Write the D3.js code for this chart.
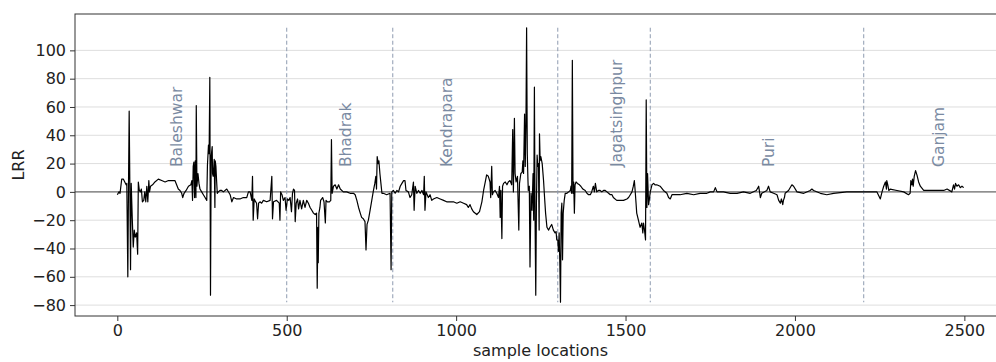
<!DOCTYPE html>
<html>
<head>
<meta charset="utf-8">
<script src="https://cdn.jsdelivr.net/npm/d3@7"></script>
<style>
  html, body { margin:0; padding:0; background:#fff; overflow:hidden; }
  svg { display:block; font-family:"DejaVu Sans", sans-serif; }
</style>
</head>
<body>
<svg id="chart" width="996" height="362"></svg>
<script>
// LRR along the coast. Only the turning points
// were read, so the fine noise of the original trace is not here.
var SAMPLE_X = [
  0,5,8,13,18,22,26,28,31,33,35,37,39,41,44,47,50,53,57,60,62,65,68,71,74,78,81,84,87,90,93,95,98,104,111,121,131,141,151,160,
  170,175,180,185,190,193,197,203,210,217,220,222,224,226,228,230,232,233,235,238,241,244,249,254,259,264,266,269,271,273,275,277,280,281,283,286,288,289,291,293,
  295,298,303,308,313,323,333,338,343,352,362,372,382,387,392,397,399,401,404,406,411,414,417,421,426,431,441,451,456,458,461,470,478,480,482,486,490,495,498,502,
  506,510,514,517,520,523,525,528,532,535,539,544,549,554,559,564,569,574,579,584,588,590,592,593,595,598,600,606,610,614,616,620,626,630,632,634,638,643,648,653,
  658,667,677,687,697,702,707,712,717,721,726,731,734,737,741,746,751,756,760,763,765,767,770,772,775,778,781,785,795,805,808,810,815,820,825,830,835,840,845,849,
  852,859,864,869,874,876,879,884,889,894,899,904,906,908,911,918,923,928,933,943,953,963,972,982,992,1002,1012,1022,1031,1036,1041,1046,1051,1061,1069,1076,1081,1086,1090,1095,
  1100,1102,1105,1107,1110,1115,1120,1125,1128,1130,1132,1135,1137,1140,1145,1150,1154,1159,1164,1167,1169,1172,1174,1177,1181,1185,1187,1191,1195,1197,1199,1202,1204,1206,1208,1210,1212,1213,1216,1218,
  1221,1224,1227,1229,1231,1233,1235,1237,1239,1241,1243,1245,1246,1248,1250,1254,1258,1261,1264,1268,1273,1277,1282,1287,1292,1295,1297,1300,1302,1304,1306,1308,1310,1312,1314,1316,1319,1322,1327,1332,
  1337,1339,1341,1343,1345,1347,1349,1351,1354,1358,1364,1368,1374,1381,1386,1391,1396,1400,1405,1408,1411,1415,1420,1425,1430,1435,1440,1445,1450,1455,1460,1464,1474,1484,1494,1504,1509,1514,1519,1523,
  1526,1528,1531,1533,1538,1543,1548,1551,1553,1556,1559,1561,1563,1565,1568,1571,1573,1578,1583,1587,1592,1602,1612,1622,1627,1632,1637,1642,1661,1681,1701,1720,1740,1750,1760,1765,1770,1789,1809,1829,
  1848,1868,1886,1893,1898,1902,1917,1922,1927,1937,1947,1952,1957,1960,1964,1966,1969,1971,1981,1991,1996,2006,2026,2045,2050,2055,2075,2094,2114,2153,2173,2203,2232,2242,2252,2257,2262,2267,2270,2271,
  2274,2277,2281,2301,2321,2335,2340,2342,2345,2347,2349,2352,2356,2360,2365,2370,2380,2399,2419,2439,2449,2463,2468,2471,2474,2478,2483,2488,2493,2498
];
var LRR = [
  -2,0,-1,9,9,7,5,6,-60,4,57,4,-55,6,-18,-39,-27,-32,-29,-44,7,1,0,2,-7,-6,0,-7,4,-7,8,0,4,5,7,9,8,7,8,8,
  8,5,2,1,-1,-4,-1,1,4,5,8,-6,18,21,-4,22,-4,61,4,13,6,2,0,-2,-4,-6,19,33,27,81,-73,25,32,13,11,23,-11,22,18,8,
  -1,0,1,1,0,2,-2,-7,-4,-5,-5,-4,-4,0,0,-6,11,-20,-5,-6,-8,-19,-8,-7,-8,-6,-7,-6,11,-19,-7,-6,-8,-20,0,-2,-6,-4,-13,-5,
  -6,-4,-14,-1,2,1,-21,-8,-5,-12,-6,-12,-6,-11,-6,-8,-11,-13,-15,-16,-15,-68,-25,-50,-15,-11,-6,-4,-7,-22,-6,-7,-7,-6,37,-1,4,5,2,5,
  2,0,0,-1,-1,-2,-6,-11,-15,-18,-19,-21,-41,-23,-20,-13,-6,1,6,11,2,25,20,22,13,6,-1,-1,-2,-1,-55,0,1,-1,1,0,4,6,8,8,
  1,0,-4,-2,7,-13,4,-1,1,-1,1,-2,11,-13,0,-4,-2,-6,-5,-4,-5,-6,-7,-7,-7,-8,-7,-8,-9,-11,-9,-12,-14,-16,-14,-7,1,7,12,11,
  7,-4,18,-2,0,1,-1,-4,4,-18,1,-33,4,6,7,5,7,8,5,44,0,52,13,7,11,-27,6,13,14,22,13,55,18,46,116,27,8,1,4,-53,
  -1,-13,13,-20,74,-20,-73,-8,26,18,20,-27,41,22,25,20,8,-4,-15,-25,-27,-25,-23,-27,-29,-28,-34,-34,-42,-29,-50,-78,-15,-8,-48,-15,-6,-1,-1,0,
  1,4,-1,93,-1,7,-15,5,7,6,5,4,2,1,-1,-2,-2,0,4,0,6,0,1,1,0,1,1,0,-1,-2,-2,-4,-6,-6,-6,-5,-4,-2,0,4,
  8,2,-8,-15,-20,-25,-22,-29,-22,-27,-34,65,-11,13,-9,-4,0,5,6,5,5,4,1,-1,-4,-5,-2,-2,-2,-1,-2,-1,-1,0,0,3,0,0,-1,-1,
  0,-1,1,4,-4,-1,1,4,0,-1,-2,-6,-8,-5,-9,-6,-4,-1,1,5,4,0,-1,1,2,1,-1,-2,-1,0,0,0,0,0,-5,0,4,7,2,8,
  5,1,2,1,0,-2,-1,8,5,9,4,11,15,12,7,4,1,1,1,1,2,0,5,2,6,4,5,3,4,3
];

// district boundaries (sample index) and where each name is written
var BOUNDARIES  = [500, 813, 1300, 1573, 2203];
var DISTRICTS   = ['Baleshwar', 'Bhadrak', 'Kendrapara', 'Jagatsinghpur', 'Puri', 'Ganjam'];
var DISTRICT_AT = [176, 676, 974, 1474, 1924, 2424];
var LABEL_Y     = 17.5;

var X_TICKS = [0, 500, 1000, 1500, 2000, 2500];
var Y_TICKS = [-80, -60, -40, -20, 0, 20, 40, 60, 80, 100];

(function(){
'use strict';
var svg = d3.select('#chart');
// the right edge of the axes runs past the picture, as in the reference
var M = { left:75, top:14, right:1006, bottom:316 };

var data = SAMPLE_X.map(function(x, i){ return { x:x, y:LRR[i] }; });
var xExt = d3.extent(SAMPLE_X), yExt = d3.extent(LRR);
var xPad = (xExt[1] - xExt[0]) * 0.05, yPad = (yExt[1] - yExt[0]) * 0.05;

var x = d3.scaleLinear([xExt[0] - xPad, xExt[1] + xPad], [M.left, M.right]);
var y = d3.scaleLinear([yExt[0] - yPad, yExt[1] + yPad], [M.bottom, M.top]);

var minus = function(v){ return String(v).replace('-', '\u2212'); };

/* ----------------------------------------------------------------- grid */
svg.append('g').selectAll('line').data(Y_TICKS).join('line')
    .attr('x1', M.left).attr('x2', M.right)
    .attr('y1', function(d){ return y(d); }).attr('y2', function(d){ return y(d); })
    .attr('stroke', '#dedede').attr('stroke-width', 1);

// zero reference
svg.append('line')
    .attr('x1', M.left).attr('x2', M.right).attr('y1', y(0)).attr('y2', y(0))
    .attr('stroke', '#707070').attr('stroke-width', 1.2);

/* ---------------------------------------------------- district dividers */
svg.append('g').selectAll('line').data(BOUNDARIES).join('line')
    .attr('x1', function(d){ return x(d); }).attr('x2', function(d){ return x(d); })
    .attr('y1', y(yExt[1])).attr('y2', y(yExt[0]))
    .attr('stroke', '#8e9bb0').attr('stroke-width', 1).attr('stroke-dasharray', '4 2.5');

svg.append('g').selectAll('text').data(DISTRICTS).join('text')
    .attr('transform', function(d, i){ return 'translate(' + x(DISTRICT_AT[i]) + ',' + y(LABEL_Y) + ') rotate(-90)'; })
    .attr('dominant-baseline', 'central')
    .attr('font-size', 15.5).attr('fill', '#7a8aa2')
    .text(function(d){ return d; });

/* ------------------------------------------------------------------ line */
svg.append('path').datum(data)
    .attr('d', d3.line().x(function(d){ return x(d.x); }).y(function(d){ return y(d.y); }))
    .attr('fill', 'none').attr('stroke', '#000').attr('stroke-width', 1.2)
    .attr('stroke-linejoin', 'round');

/* ------------------------------------------------------------------ axes */
svg.append('rect')
    .attr('x', M.left).attr('y', M.top)
    .attr('width', M.right - M.left).attr('height', M.bottom - M.top)
    .attr('fill', 'none').attr('stroke', '#333').attr('stroke-width', 1);

var xAxis = svg.append('g').attr('transform', 'translate(0,' + M.bottom + ')')
    .call(d3.axisBottom(x).tickValues(X_TICKS).tickSize(5).tickPadding(4).tickFormat(d3.format('d')));
var yAxis = svg.append('g').attr('transform', 'translate(' + M.left + ',0)')
    .call(d3.axisLeft(y).tickValues(Y_TICKS).tickSize(5).tickPadding(4).tickFormat(minus));
[xAxis, yAxis].forEach(function(a){
    a.select('.domain').remove();
    a.selectAll('line').attr('stroke', '#333');
    a.selectAll('text').attr('font-size', 16).attr('fill', '#222')
        .attr('font-family', '"DejaVu Sans", sans-serif');
});

svg.append('text')
    .attr('x', (M.left + M.right) / 2).attr('y', 356)
    .attr('text-anchor', 'middle').attr('font-size', 16).attr('fill', '#222')
    .text('sample locations');
svg.append('text')
    .attr('transform', 'translate(24,' + (M.top + M.bottom) / 2 + ') rotate(-90)')
    .attr('text-anchor', 'middle').attr('font-size', 16).attr('fill', '#222')
    .text('LRR');
})();
</script>
</body>
</html>
